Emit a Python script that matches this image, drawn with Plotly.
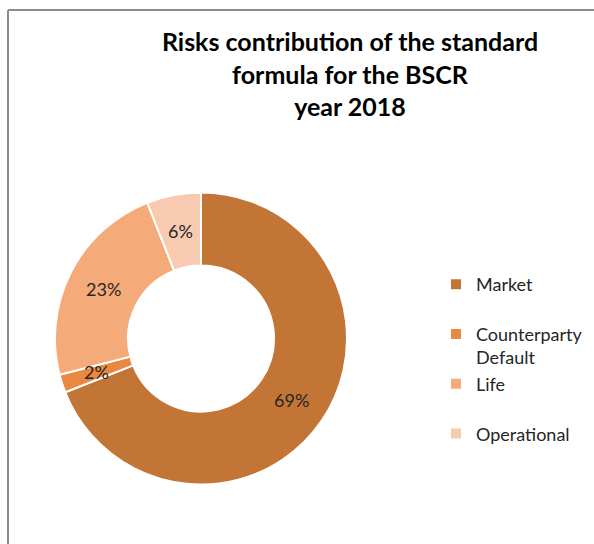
import math
import plotly.graph_objects as go

categories = ["Market", "Counterparty Default", "Life", "Operational"]
legend_labels = ["Market<br> ", "Counterparty<br>Default", "Life<br> ", "Operational"]
values = [69, 2, 23, 6]
colors = ["#C37535", "#E8893F", "#F5AA7A", "#F8CAB0"]

W, H = 594, 544
cx, cy, r = 201, 338.5, 146
hole = 0.5

fig = go.Figure(go.Pie(
    labels=legend_labels,
    values=values,
    hole=hole,
    sort=False,
    direction="clockwise",
    rotation=0,
    marker=dict(colors=colors, line=dict(color="white", width=2)),
    textinfo="none",
    domain=dict(x=[(cx - r) / W, (cx + r) / W], y=[(H - cy - r) / H, (H - cy + r) / H]),
    customdata=categories,
    hovertemplate="%{customdata}: %{percent:.0%}<extra></extra>",
))

# percentage labels at mid-ring radius, positioned from the data
total = sum(values)
rm = r * (1 + hole) / 2
annotations = []
cum = 0
for v in values:
    mid = (cum + v / 2) / total * 2 * math.pi
    cum += v
    px = cx + rm * math.sin(mid)
    py = cy - rm * math.cos(mid)
    annotations.append(dict(
        x=px / W, y=1 - py / H, xref="paper", yref="paper",
        text=f"{round(v / total * 100)}%", showarrow=False,
        xanchor="center", yanchor="middle",
        font=dict(family="Lato", size=18, color="#262626"),
    ))

fig.update_layout(
    width=W, height=H,
    margin=dict(l=0, r=0, t=0, b=0),
    paper_bgcolor="white",
    title=dict(
        text="<b>Risks contribution of the standard<br>formula for the BSCR<br>year 2018</b>",
        x=350 / W, xanchor="center", y=1 - 51 / H, yanchor="top",
        font=dict(family="Lato", size=25, color="#000000"),
    ),
    legend=dict(
        x=436 / W, xanchor="left", y=1 - 266 / H, yanchor="top",
        font=dict(family="Lato", size=18, color="#262626"),
        valign="top",
        tracegroupgap=0,
    ),
    annotations=annotations,
    shapes=[
        dict(type="line", xref="paper", yref="paper", x0=8 / W, x1=8 / W, y0=-0.01, y1=1 - 10 / H,
             line=dict(color="#8C8C8C", width=2)),
        dict(type="line", xref="paper", yref="paper", x0=8 / W, x1=1.01, y0=1 - 10 / H, y1=1 - 10 / H,
             line=dict(color="#8C8C8C", width=2)),
    ],
)

fig.write_html("out.html", config={"displayModeBar": False},
               post_script="document.body.style.margin='0';")
